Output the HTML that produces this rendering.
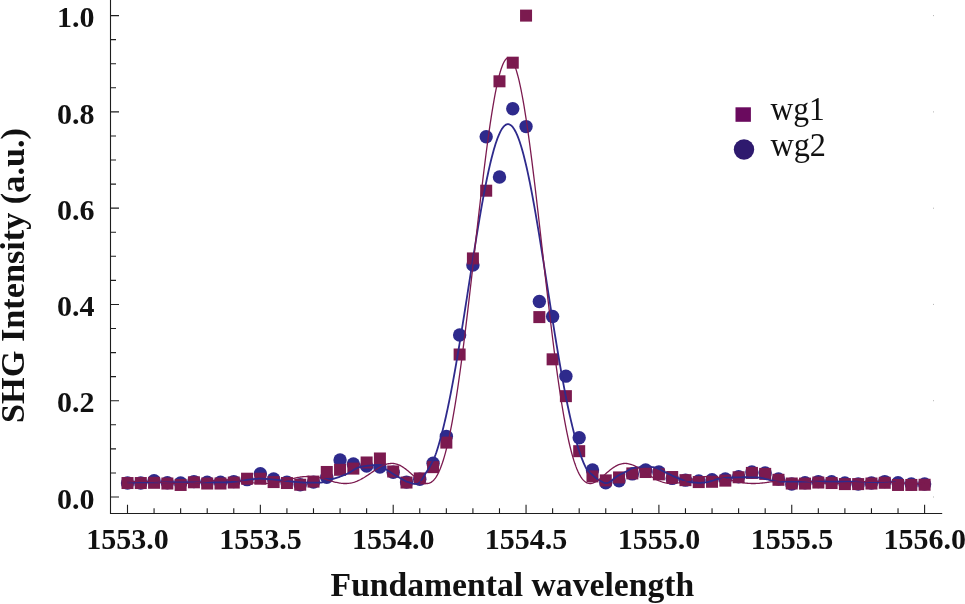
<!DOCTYPE html>
<html lang="en"><head><meta charset="utf-8"><title>SHG Intensity vs Fundamental wavelength</title>
<style>html,body{margin:0;padding:0;background:#fff}body{width:965px;height:604px;overflow:hidden}svg{display:block}</style>
</head><body>
<svg width="965" height="604" viewBox="0 0 965 604">
<rect width="965" height="604" fill="#fff"/>
<g stroke="#1e1e1e" stroke-width="1.1" fill="none">
<path d="M110.5,0 V513.5 H942.2"/>
<path d="M110.5,497.00 h8.5 M110.5,472.93 h5.5 M110.5,448.86 h5.5 M110.5,424.79 h5.5 M110.5,400.72 h8.5 M110.5,376.65 h5.5 M110.5,352.58 h5.5 M110.5,328.51 h5.5 M110.5,304.44 h8.5 M110.5,280.37 h5.5 M110.5,256.30 h5.5 M110.5,232.23 h5.5 M110.5,208.16 h8.5 M110.5,184.09 h5.5 M110.5,160.02 h5.5 M110.5,135.95 h5.5 M110.5,111.88 h8.5 M110.5,87.81 h5.5 M110.5,63.74 h5.5 M110.5,39.67 h5.5 M110.5,15.60 h8.5 M127.50,513.5 v-8.8 M154.07,513.5 v-5.2 M180.64,513.5 v-5.2 M207.21,513.5 v-5.2 M233.78,513.5 v-5.2 M260.35,513.5 v-8.8 M286.92,513.5 v-5.2 M313.49,513.5 v-5.2 M340.06,513.5 v-5.2 M366.63,513.5 v-5.2 M393.20,513.5 v-8.8 M419.77,513.5 v-5.2 M446.34,513.5 v-5.2 M472.91,513.5 v-5.2 M499.48,513.5 v-5.2 M526.05,513.5 v-8.8 M552.62,513.5 v-5.2 M579.19,513.5 v-5.2 M605.76,513.5 v-5.2 M632.33,513.5 v-5.2 M658.90,513.5 v-8.8 M685.47,513.5 v-5.2 M712.04,513.5 v-5.2 M738.61,513.5 v-5.2 M765.18,513.5 v-5.2 M791.75,513.5 v-8.8 M818.32,513.5 v-5.2 M844.89,513.5 v-5.2 M871.46,513.5 v-5.2 M898.03,513.5 v-5.2 M924.60,513.5 v-8.8"/>
</g>
<g fill="#b4b4b4"><rect x="933" y="496.5" width="1" height="1"/><rect x="933" y="400.2" width="1" height="1"/><rect x="933" y="303.9" width="1" height="1"/><rect x="933" y="207.7" width="1" height="1"/><rect x="933" y="111.4" width="1" height="1"/><rect x="933" y="15.1" width="1" height="1"/></g>
<g fill="#2e2a8c">
<circle cx="127.50" cy="483.04" r="6.7"/>
<circle cx="140.78" cy="483.04" r="6.7"/>
<circle cx="154.07" cy="480.63" r="6.7"/>
<circle cx="167.36" cy="482.80" r="6.7"/>
<circle cx="180.64" cy="483.04" r="6.7"/>
<circle cx="193.93" cy="481.60" r="6.7"/>
<circle cx="207.21" cy="482.32" r="6.7"/>
<circle cx="220.50" cy="482.32" r="6.7"/>
<circle cx="233.78" cy="481.60" r="6.7"/>
<circle cx="247.06" cy="479.67" r="6.7"/>
<circle cx="260.35" cy="473.75" r="6.7"/>
<circle cx="273.63" cy="478.90" r="6.7"/>
<circle cx="286.92" cy="482.08" r="6.7"/>
<circle cx="300.21" cy="484.72" r="6.7"/>
<circle cx="313.49" cy="482.08" r="6.7"/>
<circle cx="326.77" cy="477.26" r="6.7"/>
<circle cx="340.06" cy="459.93" r="6.7"/>
<circle cx="353.35" cy="463.98" r="6.7"/>
<circle cx="366.63" cy="466.05" r="6.7"/>
<circle cx="379.91" cy="467.01" r="6.7"/>
<circle cx="393.20" cy="472.30" r="6.7"/>
<circle cx="406.49" cy="482.08" r="6.7"/>
<circle cx="419.77" cy="479.19" r="6.7"/>
<circle cx="433.06" cy="463.30" r="6.7"/>
<circle cx="446.34" cy="436.34" r="6.7"/>
<circle cx="459.62" cy="334.96" r="6.7"/>
<circle cx="472.91" cy="264.97" r="6.7"/>
<circle cx="486.19" cy="136.77" r="6.7"/>
<circle cx="499.48" cy="177.01" r="6.7"/>
<circle cx="512.76" cy="108.70" r="6.7"/>
<circle cx="526.05" cy="126.61" r="6.7"/>
<circle cx="539.34" cy="301.55" r="6.7"/>
<circle cx="552.62" cy="316.48" r="6.7"/>
<circle cx="565.90" cy="376.17" r="6.7"/>
<circle cx="579.19" cy="437.69" r="6.7"/>
<circle cx="592.48" cy="470.04" r="6.7"/>
<circle cx="605.76" cy="482.80" r="6.7"/>
<circle cx="619.05" cy="480.78" r="6.7"/>
<circle cx="632.33" cy="473.89" r="6.7"/>
<circle cx="645.62" cy="470.04" r="6.7"/>
<circle cx="658.90" cy="471.97" r="6.7"/>
<circle cx="672.19" cy="478.42" r="6.7"/>
<circle cx="685.47" cy="480.15" r="6.7"/>
<circle cx="698.75" cy="480.87" r="6.7"/>
<circle cx="712.04" cy="479.81" r="6.7"/>
<circle cx="725.33" cy="479.00" r="6.7"/>
<circle cx="738.61" cy="476.78" r="6.7"/>
<circle cx="751.89" cy="471.97" r="6.7"/>
<circle cx="765.18" cy="472.93" r="6.7"/>
<circle cx="778.47" cy="479.00" r="6.7"/>
<circle cx="791.75" cy="484.00" r="6.7"/>
<circle cx="805.03" cy="482.80" r="6.7"/>
<circle cx="818.32" cy="481.60" r="6.7"/>
<circle cx="831.61" cy="481.79" r="6.7"/>
<circle cx="844.89" cy="483.04" r="6.7"/>
<circle cx="858.17" cy="484.00" r="6.7"/>
<circle cx="871.46" cy="483.04" r="6.7"/>
<circle cx="884.75" cy="481.60" r="6.7"/>
<circle cx="898.03" cy="482.80" r="6.7"/>
<circle cx="911.32" cy="484.00" r="6.7"/>
<circle cx="924.60" cy="484.00" r="6.7"/>
</g>
<g fill="#7b1a4f">
<rect x="121.50" y="477.04" width="12" height="12"/>
<rect x="134.78" y="477.04" width="12" height="12"/>
<rect x="148.07" y="476.80" width="12" height="12"/>
<rect x="161.36" y="477.52" width="12" height="12"/>
<rect x="174.64" y="478.96" width="12" height="12"/>
<rect x="187.93" y="476.32" width="12" height="12"/>
<rect x="201.21" y="477.52" width="12" height="12"/>
<rect x="214.50" y="477.52" width="12" height="12"/>
<rect x="227.78" y="476.56" width="12" height="12"/>
<rect x="241.06" y="472.71" width="12" height="12"/>
<rect x="254.35" y="472.71" width="12" height="12"/>
<rect x="267.63" y="476.08" width="12" height="12"/>
<rect x="280.92" y="477.04" width="12" height="12"/>
<rect x="294.21" y="478.72" width="12" height="12"/>
<rect x="307.49" y="475.60" width="12" height="12"/>
<rect x="320.77" y="465.97" width="12" height="12"/>
<rect x="334.06" y="463.80" width="12" height="12"/>
<rect x="347.35" y="462.60" width="12" height="12"/>
<rect x="360.63" y="456.48" width="12" height="12"/>
<rect x="373.91" y="452.49" width="12" height="12"/>
<rect x="387.20" y="465.49" width="12" height="12"/>
<rect x="400.49" y="476.56" width="12" height="12"/>
<rect x="413.77" y="472.42" width="12" height="12"/>
<rect x="427.06" y="461.15" width="12" height="12"/>
<rect x="440.34" y="436.60" width="12" height="12"/>
<rect x="453.62" y="348.51" width="12" height="12"/>
<rect x="466.91" y="252.42" width="12" height="12"/>
<rect x="480.19" y="184.69" width="12" height="12"/>
<rect x="493.48" y="75.31" width="12" height="12"/>
<rect x="506.76" y="56.68" width="12" height="12"/>
<rect x="520.05" y="9.60" width="12" height="12"/>
<rect x="533.34" y="311.10" width="12" height="12"/>
<rect x="546.62" y="353.32" width="12" height="12"/>
<rect x="559.90" y="390.15" width="12" height="12"/>
<rect x="573.19" y="445.17" width="12" height="12"/>
<rect x="586.48" y="470.40" width="12" height="12"/>
<rect x="599.76" y="474.39" width="12" height="12"/>
<rect x="613.05" y="471.41" width="12" height="12"/>
<rect x="626.33" y="467.41" width="12" height="12"/>
<rect x="639.62" y="466.02" width="12" height="12"/>
<rect x="652.90" y="468.37" width="12" height="12"/>
<rect x="666.19" y="471.02" width="12" height="12"/>
<rect x="679.47" y="474.15" width="12" height="12"/>
<rect x="692.75" y="476.08" width="12" height="12"/>
<rect x="706.04" y="475.79" width="12" height="12"/>
<rect x="719.33" y="474.63" width="12" height="12"/>
<rect x="732.61" y="471.26" width="12" height="12"/>
<rect x="745.89" y="466.93" width="12" height="12"/>
<rect x="759.18" y="467.89" width="12" height="12"/>
<rect x="772.47" y="473.81" width="12" height="12"/>
<rect x="785.75" y="477.52" width="12" height="12"/>
<rect x="799.03" y="477.62" width="12" height="12"/>
<rect x="812.32" y="476.56" width="12" height="12"/>
<rect x="825.61" y="477.04" width="12" height="12"/>
<rect x="838.89" y="478.10" width="12" height="12"/>
<rect x="852.17" y="478.10" width="12" height="12"/>
<rect x="865.46" y="477.52" width="12" height="12"/>
<rect x="878.75" y="476.80" width="12" height="12"/>
<rect x="892.03" y="478.96" width="12" height="12"/>
<rect x="905.32" y="478.96" width="12" height="12"/>
<rect x="918.60" y="478.77" width="12" height="12"/>
</g>
<path d="M127.60,482.32 L128.40,482.32 L129.20,482.32 L130.00,482.32 L130.80,482.32 L131.60,482.32 L132.40,482.32 L133.20,482.32 L134.00,482.32 L134.80,482.32 L135.60,482.32 L136.40,482.32 L137.20,482.32 L138.00,482.32 L138.80,482.32 L139.60,482.32 L140.40,482.32 L141.20,482.32 L142.00,482.32 L142.80,482.32 L143.60,482.32 L144.40,482.32 L145.20,482.32 L146.00,482.32 L146.80,482.32 L147.60,482.32 L148.40,482.32 L149.20,482.32 L150.00,482.32 L150.80,482.32 L151.60,482.32 L152.40,482.32 L153.20,482.32 L154.00,482.32 L154.80,482.32 L155.60,482.32 L156.40,482.32 L157.20,482.32 L158.00,482.32 L158.80,482.32 L159.60,482.32 L160.40,482.32 L161.20,482.32 L162.00,482.32 L162.80,482.32 L163.60,482.32 L164.40,482.32 L165.20,482.32 L166.00,482.32 L166.80,482.32 L167.60,482.32 L168.40,482.32 L169.20,482.32 L170.00,482.32 L170.80,482.32 L171.60,482.32 L172.40,482.32 L173.20,482.32 L174.00,482.32 L174.80,482.32 L175.60,482.32 L176.40,482.32 L177.20,482.32 L178.00,482.32 L178.80,482.32 L179.60,482.32 L180.40,482.32 L181.20,482.32 L182.00,482.32 L182.80,482.32 L183.60,482.32 L184.40,482.32 L185.20,482.32 L186.00,482.32 L186.80,482.32 L187.60,482.32 L188.40,482.32 L189.20,482.32 L190.00,482.32 L190.80,482.32 L191.60,482.32 L192.40,482.32 L193.20,482.32 L194.00,482.32 L194.80,482.32 L195.60,482.32 L196.40,482.32 L197.20,482.32 L198.00,482.32 L198.80,482.32 L199.60,482.32 L200.40,482.32 L201.20,482.32 L202.00,482.32 L202.80,482.32 L203.60,482.32 L204.40,482.32 L205.20,482.32 L206.00,482.32 L206.80,482.32 L207.60,482.32 L208.40,482.32 L209.20,482.32 L210.00,482.32 L210.80,482.32 L211.60,482.32 L212.40,482.32 L213.20,482.32 L214.00,482.32 L214.80,482.32 L215.60,482.32 L216.40,482.32 L217.20,482.32 L218.00,482.32 L218.80,482.32 L219.60,482.32 L220.40,482.32 L221.20,482.32 L222.00,482.32 L222.80,482.32 L223.60,482.32 L224.40,482.32 L225.20,482.32 L226.00,482.31 L226.80,482.29 L227.60,482.26 L228.40,482.23 L229.20,482.18 L230.00,482.13 L230.80,482.07 L231.60,482.00 L232.40,481.93 L233.20,481.86 L234.00,481.78 L234.80,481.69 L235.60,481.61 L236.40,481.52 L237.20,481.43 L238.00,481.34 L238.80,481.25 L239.60,481.16 L240.40,481.07 L241.20,480.96 L242.00,480.83 L242.80,480.69 L243.60,480.54 L244.40,480.38 L245.20,480.22 L246.00,480.06 L246.80,479.91 L247.60,479.76 L248.40,479.63 L249.20,479.52 L250.00,479.43 L250.80,479.35 L251.60,479.27 L252.40,479.18 L253.20,479.10 L254.00,479.03 L254.80,478.96 L255.60,478.89 L256.40,478.84 L257.20,478.79 L258.00,478.75 L258.80,478.72 L259.60,478.71 L260.40,478.71 L261.20,478.72 L262.00,478.74 L262.80,478.77 L263.60,478.81 L264.40,478.85 L265.20,478.90 L266.00,478.95 L266.80,479.01 L267.60,479.08 L268.40,479.14 L269.20,479.20 L270.00,479.27 L270.80,479.34 L271.60,479.40 L272.40,479.46 L273.20,479.53 L274.00,479.60 L274.80,479.67 L275.60,479.75 L276.40,479.84 L277.20,479.92 L278.00,480.01 L278.80,480.11 L279.60,480.20 L280.40,480.30 L281.20,480.39 L282.00,480.49 L282.80,480.58 L283.60,480.68 L284.40,480.77 L285.20,480.87 L286.00,480.96 L286.80,481.04 L287.60,481.13 L288.40,481.21 L289.20,481.28 L290.00,481.35 L290.80,481.42 L291.60,481.50 L292.40,481.57 L293.20,481.65 L294.00,481.73 L294.80,481.81 L295.60,481.88 L296.40,481.96 L297.20,482.04 L298.00,482.11 L298.80,482.18 L299.60,482.25 L300.40,482.31 L301.20,482.38 L302.00,482.43 L302.80,482.48 L303.60,482.53 L304.40,482.57 L305.20,482.60 L306.00,482.63 L306.80,482.64 L307.60,482.65 L308.40,482.65 L309.20,482.65 L310.00,482.65 L310.80,482.65 L311.60,482.65 L312.40,482.64 L313.20,482.64 L314.00,482.63 L314.80,482.62 L315.60,482.61 L316.40,482.61 L317.20,482.60 L318.00,482.59 L318.80,482.58 L319.60,482.56 L320.40,482.55 L321.20,482.49 L322.00,482.39 L322.80,482.26 L323.60,482.09 L324.40,481.89 L325.20,481.67 L326.00,481.42 L326.80,481.16 L327.60,480.89 L328.40,480.60 L329.20,480.32 L330.00,480.03 L330.80,479.74 L331.60,479.46 L332.40,479.19 L333.20,478.93 L334.00,478.68 L334.80,478.42 L335.60,478.16 L336.40,477.89 L337.20,477.62 L338.00,477.34 L338.80,477.06 L339.60,476.78 L340.40,476.48 L341.20,476.18 L342.00,475.88 L342.80,475.57 L343.60,475.25 L344.40,474.92 L345.20,474.59 L346.00,474.25 L346.80,473.90 L347.60,473.52 L348.40,473.09 L349.20,472.64 L350.00,472.15 L350.80,471.66 L351.60,471.15 L352.40,470.64 L353.20,470.14 L354.00,469.64 L354.80,469.17 L355.60,468.73 L356.40,468.33 L357.20,467.96 L358.00,467.65 L358.80,467.40 L359.60,467.20 L360.40,467.00 L361.20,466.82 L362.00,466.66 L362.80,466.50 L363.60,466.35 L364.40,466.21 L365.20,466.08 L366.00,465.95 L366.80,465.84 L367.60,465.74 L368.40,465.64 L369.20,465.55 L370.00,465.47 L370.80,465.39 L371.60,465.31 L372.40,465.23 L373.20,465.15 L374.00,465.08 L374.80,465.02 L375.60,464.97 L376.40,464.93 L377.20,464.90 L378.00,464.89 L378.80,464.95 L379.60,465.13 L380.40,465.44 L381.20,465.84 L382.00,466.32 L382.80,466.86 L383.60,467.45 L384.40,468.06 L385.20,468.68 L386.00,469.29 L386.80,469.88 L387.60,470.42 L388.40,470.91 L389.20,471.40 L390.00,471.89 L390.80,472.39 L391.60,472.90 L392.40,473.41 L393.20,473.91 L394.00,474.42 L394.80,474.92 L395.60,475.42 L396.40,475.91 L397.20,476.39 L398.00,476.85 L398.80,477.31 L399.60,477.77 L400.40,478.23 L401.20,478.71 L402.00,479.18 L402.80,479.64 L403.60,480.09 L404.40,480.52 L405.20,480.93 L406.00,481.31 L406.80,481.65 L407.60,481.94 L408.40,482.20 L409.20,482.46 L410.00,482.71 L410.80,482.96 L411.60,483.20 L412.40,483.41 L413.20,483.60 L414.00,483.76 L414.80,483.89 L415.60,483.97 L416.40,484.00 L417.20,483.91 L418.00,483.57 L418.80,483.03 L419.60,482.29 L420.40,481.40 L421.20,480.37 L422.00,479.22 L422.80,477.99 L423.60,476.70 L424.40,475.38 L425.20,474.04 L426.00,472.72 L426.80,471.44 L427.60,470.21 L428.40,468.97 L429.20,467.67 L430.00,466.32 L430.80,464.90 L431.60,463.41 L432.40,461.84 L433.20,460.18 L434.00,458.43 L434.80,456.56 L435.60,454.53 L436.40,452.27 L437.20,449.83 L438.00,447.23 L438.80,444.50 L439.60,441.67 L440.40,438.77 L441.20,435.83 L442.00,432.87 L442.80,429.78 L443.60,426.50 L444.40,423.15 L445.20,419.71 L446.00,416.18 L446.80,412.56 L447.60,408.84 L448.40,405.03 L449.20,401.13 L450.00,397.14 L450.80,393.07 L451.60,388.91 L452.40,384.68 L453.20,380.36 L454.00,375.98 L454.80,371.52 L455.60,366.99 L456.40,362.39 L457.20,357.73 L458.00,353.01 L458.80,348.24 L459.60,343.41 L460.40,338.54 L461.20,333.62 L462.00,328.66 L462.80,323.66 L463.60,318.63 L464.40,313.57 L465.20,308.49 L466.00,303.39 L466.80,298.27 L467.60,293.14 L468.40,288.00 L469.20,282.87 L470.00,277.73 L470.80,272.61 L471.60,267.50 L472.40,262.41 L473.20,257.33 L474.00,252.29 L474.80,247.28 L475.60,242.30 L476.40,237.37 L477.20,232.49 L478.00,227.66 L478.80,222.88 L479.60,218.16 L480.40,213.52 L481.20,208.94 L482.00,204.44 L482.80,200.03 L483.60,195.69 L484.40,191.45 L485.20,187.30 L486.00,183.25 L486.80,179.30 L487.60,175.46 L488.40,171.74 L489.20,168.12 L490.00,164.63 L490.80,161.26 L491.60,158.02 L492.40,154.91 L493.20,151.93 L494.00,149.09 L494.80,146.39 L495.60,143.83 L496.40,141.42 L497.20,139.15 L498.00,137.04 L498.80,135.09 L499.60,133.28 L500.40,131.64 L501.20,130.15 L502.00,128.83 L502.80,127.67 L503.60,126.65 L504.40,125.84 L505.20,125.14 L506.00,124.67 L506.80,124.38 L507.60,124.18 L508.40,124.19 L509.20,124.39 L510.00,124.69 L510.80,125.17 L511.60,125.88 L512.40,126.70 L513.20,127.71 L514.00,128.88 L514.80,130.21 L515.60,131.71 L516.40,133.35 L517.20,135.17 L518.00,137.13 L518.80,139.25 L519.60,141.52 L520.40,143.93 L521.20,146.50 L522.00,149.21 L522.80,152.06 L523.60,155.04 L524.40,158.16 L525.20,161.41 L526.00,164.78 L526.80,168.28 L527.60,171.90 L528.40,175.63 L529.20,179.48 L530.00,183.43 L530.80,187.48 L531.60,191.64 L532.40,195.88 L533.20,200.22 L534.00,204.64 L534.80,209.14 L535.60,213.72 L536.40,218.37 L537.20,223.09 L538.00,227.87 L538.80,232.70 L539.60,237.59 L540.40,242.52 L541.20,247.50 L542.00,252.51 L542.80,257.55 L543.60,262.63 L544.40,267.72 L545.20,272.84 L546.00,277.96 L546.80,283.09 L547.60,288.23 L548.40,293.36 L549.20,298.49 L550.00,303.61 L550.80,308.71 L551.60,313.80 L552.40,318.85 L553.20,323.88 L554.00,328.88 L554.80,333.84 L555.60,338.76 L556.40,343.63 L557.20,348.45 L558.00,353.22 L558.80,357.94 L559.60,362.60 L560.40,367.19 L561.20,371.72 L562.00,376.17 L562.80,380.56 L563.60,384.87 L564.40,389.10 L565.20,393.25 L566.00,397.32 L566.80,401.30 L567.60,405.20 L568.40,409.00 L569.20,412.72 L570.00,416.34 L570.80,419.87 L571.60,423.30 L572.40,426.63 L573.20,429.87 L574.00,433.01 L574.80,436.05 L575.60,438.99 L576.40,441.82 L577.20,444.56 L578.00,447.19 L578.80,449.72 L579.60,452.15 L580.40,454.48 L581.20,456.71 L582.00,458.84 L582.80,460.86 L583.60,462.79 L584.40,464.65 L585.20,466.48 L586.00,467.99 L586.80,469.14 L587.60,470.18 L588.40,471.13 L589.20,472.00 L590.00,472.80 L590.80,473.55 L591.60,474.27 L592.40,474.97 L593.20,475.67 L594.00,476.38 L594.80,477.07 L595.60,477.74 L596.40,478.38 L597.20,478.99 L598.00,479.56 L598.80,480.08 L599.60,480.53 L600.40,480.94 L601.20,481.36 L602.00,481.77 L602.80,482.16 L603.60,482.51 L604.40,482.80 L605.20,483.01 L606.00,483.12 L606.80,483.12 L607.60,482.98 L608.40,482.71 L609.20,482.33 L610.00,481.86 L610.80,481.31 L611.60,480.70 L612.40,480.05 L613.20,479.38 L614.00,478.69 L614.80,478.01 L615.60,477.35 L616.40,476.73 L617.20,476.17 L618.00,475.67 L618.80,475.23 L619.60,474.81 L620.40,474.40 L621.20,474.00 L622.00,473.61 L622.80,473.22 L623.60,472.83 L624.40,472.44 L625.20,472.05 L626.00,471.64 L626.80,471.21 L627.60,470.73 L628.40,470.22 L629.20,469.71 L630.00,469.23 L630.80,468.80 L631.60,468.45 L632.40,468.21 L633.20,468.05 L634.00,467.91 L634.80,467.78 L635.60,467.68 L636.40,467.58 L637.20,467.49 L638.00,467.41 L638.80,467.33 L639.60,467.25 L640.40,467.16 L641.20,467.08 L642.00,466.99 L642.80,466.90 L643.60,466.83 L644.40,466.77 L645.20,466.73 L646.00,466.72 L646.80,466.73 L647.60,466.75 L648.40,466.79 L649.20,466.84 L650.00,466.89 L650.80,466.96 L651.60,467.04 L652.40,467.12 L653.20,467.20 L654.00,467.32 L654.80,467.49 L655.60,467.71 L656.40,467.98 L657.20,468.29 L658.00,468.63 L658.80,469.00 L659.60,469.38 L660.40,469.79 L661.20,470.20 L662.00,470.62 L662.80,471.04 L663.60,471.45 L664.40,471.84 L665.20,472.22 L666.00,472.58 L666.80,472.95 L667.60,473.32 L668.40,473.71 L669.20,474.10 L670.00,474.50 L670.80,474.90 L671.60,475.29 L672.40,475.69 L673.20,476.08 L674.00,476.46 L674.80,476.83 L675.60,477.19 L676.40,477.54 L677.20,477.87 L678.00,478.18 L678.80,478.48 L679.60,478.79 L680.40,479.09 L681.20,479.40 L682.00,479.70 L682.80,480.00 L683.60,480.29 L684.40,480.57 L685.20,480.84 L686.00,481.09 L686.80,481.32 L687.60,481.53 L688.40,481.71 L689.20,481.88 L690.00,482.01 L690.80,482.11 L691.60,482.21 L692.40,482.30 L693.20,482.39 L694.00,482.48 L694.80,482.55 L695.60,482.62 L696.40,482.68 L697.20,482.73 L698.00,482.77 L698.80,482.79 L699.60,482.80 L700.40,482.79 L701.20,482.76 L702.00,482.71 L702.80,482.65 L703.60,482.58 L704.40,482.50 L705.20,482.41 L706.00,482.32 L706.80,482.20 L707.60,482.05 L708.40,481.86 L709.20,481.66 L710.00,481.43 L710.80,481.21 L711.60,480.98 L712.40,480.76 L713.20,480.51 L714.00,480.24 L714.80,479.95 L715.60,479.65 L716.40,479.35 L717.20,479.07 L718.00,478.81 L718.80,478.58 L719.60,478.40 L720.40,478.26 L721.20,478.18 L722.00,478.10 L722.80,478.03 L723.60,477.97 L724.40,477.91 L725.20,477.85 L726.00,477.80 L726.80,477.76 L727.60,477.71 L728.40,477.67 L729.20,477.64 L730.00,477.61 L730.80,477.58 L731.60,477.55 L732.40,477.52 L733.20,477.50 L734.00,477.47 L734.80,477.45 L735.60,477.43 L736.40,477.40 L737.20,477.38 L738.00,477.36 L738.80,477.34 L739.60,477.33 L740.40,477.31 L741.20,477.30 L742.00,477.28 L742.80,477.27 L743.60,477.27 L744.40,477.26 L745.20,477.26 L746.00,477.26 L746.80,477.27 L747.60,477.27 L748.40,477.28 L749.20,477.29 L750.00,477.30 L750.80,477.32 L751.60,477.33 L752.40,477.35 L753.20,477.37 L754.00,477.39 L754.80,477.41 L755.60,477.43 L756.40,477.45 L757.20,477.48 L758.00,477.50 L758.80,477.55 L759.60,477.63 L760.40,477.74 L761.20,477.87 L762.00,478.03 L762.80,478.21 L763.60,478.40 L764.40,478.60 L765.20,478.82 L766.00,479.04 L766.80,479.26 L767.60,479.48 L768.40,479.69 L769.20,479.90 L770.00,480.09 L770.80,480.26 L771.60,480.42 L772.40,480.55 L773.20,480.66 L774.00,480.76 L774.80,480.86 L775.60,480.95 L776.40,481.05 L777.20,481.15 L778.00,481.24 L778.80,481.32 L779.60,481.40 L780.40,481.48 L781.20,481.54 L782.00,481.59 L782.80,481.64 L783.60,481.67 L784.40,481.69 L785.20,481.69 L786.00,481.69 L786.80,481.69 L787.60,481.69 L788.40,481.69 L789.20,481.69 L790.00,481.69 L790.80,481.69 L791.60,481.69 L792.40,481.69 L793.20,481.69 L794.00,481.69 L794.80,481.69 L795.60,481.69 L796.40,481.69 L797.20,481.69 L798.00,481.69 L798.80,481.69 L799.60,481.69 L800.40,481.69 L801.20,481.69 L802.00,481.69 L802.80,481.69 L803.60,481.69 L804.40,481.69 L805.20,481.69 L806.00,481.69 L806.80,481.68 L807.60,481.68 L808.40,481.68 L809.20,481.68 L810.00,481.68 L810.80,481.67 L811.60,481.67 L812.40,481.67 L813.20,481.67 L814.00,481.66 L814.80,481.66 L815.60,481.66 L816.40,481.66 L817.20,481.65 L818.00,481.65 L818.80,481.65 L819.60,481.64 L820.40,481.64 L821.20,481.64 L822.00,481.64 L822.80,481.63 L823.60,481.63 L824.40,481.63 L825.20,481.62 L826.00,481.62 L826.80,481.62 L827.60,481.62 L828.40,481.61 L829.20,481.61 L830.00,481.61 L830.80,481.61 L831.60,481.61 L832.40,481.60 L833.20,481.60 L834.00,481.60 L834.80,481.60 L835.60,481.60 L836.40,481.60 L837.20,481.60 L838.00,481.60 L838.80,481.60 L839.60,481.60 L840.40,481.60 L841.20,481.60 L842.00,481.60 L842.80,481.60 L843.60,481.61 L844.40,481.61 L845.20,481.62 L846.00,481.62 L846.80,481.63 L847.60,481.64 L848.40,481.65 L849.20,481.65 L850.00,481.66 L850.80,481.67 L851.60,481.68 L852.40,481.70 L853.20,481.71 L854.00,481.72 L854.80,481.73 L855.60,481.74 L856.40,481.75 L857.20,481.77 L858.00,481.78 L858.80,481.79 L859.60,481.80 L860.40,481.81 L861.20,481.82 L862.00,481.84 L862.80,481.85 L863.60,481.86 L864.40,481.88 L865.20,481.90 L866.00,481.92 L866.80,481.94 L867.60,481.96 L868.40,481.98 L869.20,482.00 L870.00,482.01 L870.80,482.03 L871.60,482.05 L872.40,482.06 L873.20,482.07 L874.00,482.07 L874.80,482.08 L875.60,482.08 L876.40,482.08 L877.20,482.08 L878.00,482.08 L878.80,482.08 L879.60,482.08 L880.40,482.08 L881.20,482.08 L882.00,482.08 L882.80,482.08 L883.60,482.08 L884.40,482.08 L885.20,482.08 L886.00,482.08 L886.80,482.08 L887.60,482.08 L888.40,482.08 L889.20,482.08 L890.00,482.08 L890.80,482.08 L891.60,482.08 L892.40,482.08 L893.20,482.08 L894.00,482.08 L894.80,482.08 L895.60,482.08" fill="none" stroke="#2e2a8c" stroke-width="1.8"/>
<path d="M127.50,482.06 L128.50,481.99 L129.49,481.92 L130.49,481.85 L131.49,481.78 L132.48,481.72 L133.48,481.67 L134.47,481.61 L135.47,481.57 L136.47,481.52 L137.46,481.48 L138.46,481.45 L139.46,481.43 L140.45,481.40 L141.45,481.39 L142.45,481.38 L143.44,481.38 L144.44,481.38 L145.43,481.39 L146.43,481.41 L147.43,481.43 L148.42,481.46 L149.42,481.50 L150.42,481.54 L151.41,481.59 L152.41,481.64 L153.41,481.69 L154.40,481.76 L155.40,481.82 L156.39,481.89 L157.39,481.97 L158.39,482.04 L159.38,482.12 L160.38,482.20 L161.38,482.29 L162.37,482.37 L163.37,482.46 L164.37,482.54 L165.36,482.63 L166.36,482.71 L167.36,482.80 L168.35,482.88 L169.35,482.95 L170.34,483.03 L171.34,483.10 L172.34,483.17 L173.33,483.23 L174.33,483.29 L175.33,483.34 L176.32,483.39 L177.32,483.43 L178.32,483.46 L179.31,483.49 L180.31,483.51 L181.30,483.52 L182.30,483.52 L183.30,483.52 L184.29,483.50 L185.29,483.48 L186.29,483.45 L187.28,483.42 L188.28,483.37 L189.28,483.32 L190.27,483.26 L191.27,483.19 L192.26,483.11 L193.26,483.03 L194.26,482.94 L195.25,482.84 L196.25,482.74 L197.25,482.64 L198.24,482.52 L199.24,482.41 L200.24,482.29 L201.23,482.16 L202.23,482.04 L203.22,481.91 L204.22,481.78 L205.22,481.65 L206.21,481.52 L207.21,481.39 L208.21,481.27 L209.20,481.14 L210.20,481.02 L211.20,480.90 L212.19,480.79 L213.19,480.68 L214.18,480.58 L215.18,480.48 L216.18,480.39 L217.17,480.31 L218.17,480.23 L219.17,480.17 L220.16,480.11 L221.16,480.06 L222.16,480.02 L223.15,480.00 L224.15,479.98 L225.14,479.97 L226.14,479.97 L227.14,479.99 L228.13,480.01 L229.13,480.04 L230.13,480.09 L231.12,480.14 L232.12,480.21 L233.12,480.28 L234.11,480.36 L235.11,480.45 L236.10,480.55 L237.10,480.66 L238.10,480.78 L239.09,480.90 L240.09,481.02 L241.09,481.16 L242.08,481.29 L243.08,481.43 L244.08,481.57 L245.07,481.72 L246.07,481.86 L247.07,482.00 L248.06,482.15 L249.06,482.29 L250.05,482.42 L251.05,482.56 L252.05,482.69 L253.04,482.81 L254.04,482.92 L255.04,483.03 L256.03,483.13 L257.03,483.22 L258.03,483.30 L259.02,483.37 L260.02,483.42 L261.01,483.47 L262.01,483.50 L263.01,483.52 L264.00,483.52 L265.00,483.51 L266.00,483.49 L266.99,483.45 L267.99,483.39 L268.99,483.32 L269.98,483.24 L270.98,483.14 L271.97,483.03 L272.97,482.90 L273.97,482.76 L274.96,482.61 L275.96,482.44 L276.96,482.26 L277.95,482.07 L278.95,481.87 L279.95,481.66 L280.94,481.44 L281.94,481.21 L282.93,480.97 L283.93,480.73 L284.93,480.49 L285.92,480.24 L286.92,479.99 L287.92,479.74 L288.91,479.49 L289.91,479.24 L290.91,478.99 L291.90,478.75 L292.90,478.52 L293.89,478.29 L294.89,478.07 L295.89,477.86 L296.88,477.66 L297.88,477.47 L298.88,477.30 L299.87,477.14 L300.87,477.00 L301.87,476.87 L302.86,476.76 L303.86,476.67 L304.85,476.60 L305.85,476.55 L306.85,476.52 L307.84,476.50 L308.84,476.51 L309.84,476.54 L310.83,476.59 L311.83,476.66 L312.83,476.75 L313.82,476.87 L314.82,477.00 L315.81,477.15 L316.81,477.32 L317.81,477.50 L318.80,477.71 L319.80,477.92 L320.80,478.16 L321.79,478.40 L322.79,478.66 L323.79,478.93 L324.78,479.20 L325.78,479.49 L326.77,479.77 L327.77,480.06 L328.77,480.36 L329.76,480.65 L330.76,480.93 L331.76,481.22 L332.75,481.49 L333.75,481.76 L334.75,482.01 L335.74,482.26 L336.74,482.48 L337.74,482.69 L338.73,482.88 L339.73,483.05 L340.72,483.20 L341.72,483.32 L342.72,483.41 L343.71,483.48 L344.71,483.51 L345.71,483.52 L346.70,483.49 L347.70,483.43 L348.70,483.34 L349.69,483.21 L350.69,483.04 L351.68,482.84 L352.68,482.61 L353.68,482.34 L354.67,482.03 L355.67,481.69 L356.67,481.31 L357.66,480.90 L358.66,480.46 L359.66,479.98 L360.65,479.48 L361.65,478.94 L362.64,478.38 L363.64,477.80 L364.64,477.19 L365.63,476.56 L366.63,475.92 L367.63,475.26 L368.62,474.59 L369.62,473.91 L370.62,473.22 L371.61,472.53 L372.61,471.84 L373.60,471.16 L374.60,470.48 L375.60,469.82 L376.59,469.17 L377.59,468.53 L378.59,467.92 L379.58,467.34 L380.58,466.78 L381.58,466.26 L382.57,465.77 L383.57,465.32 L384.56,464.91 L385.56,464.54 L386.56,464.23 L387.55,463.96 L388.55,463.74 L389.55,463.58 L390.54,463.48 L391.54,463.43 L392.54,463.44 L393.53,463.51 L394.53,463.64 L395.52,463.84 L396.52,464.09 L397.52,464.40 L398.51,464.78 L399.51,465.21 L400.51,465.69 L401.50,466.24 L402.50,466.83 L403.50,467.47 L404.49,468.16 L405.49,468.89 L406.48,469.66 L407.48,470.47 L408.48,471.30 L409.47,472.15 L410.47,473.03 L411.47,473.91 L412.46,474.81 L413.46,475.70 L414.46,476.58 L415.45,477.44 L416.45,478.28 L417.45,479.09 L418.44,479.86 L419.44,480.58 L420.43,481.24 L421.43,481.84 L422.43,482.36 L423.42,482.80 L424.42,483.14 L425.42,483.38 L426.41,483.50 L427.41,483.51 L428.41,483.38 L429.40,483.11 L430.40,482.69 L431.39,482.12 L432.39,481.37 L433.39,480.45 L434.38,479.35 L435.38,478.05 L436.38,476.56 L437.37,474.85 L438.37,472.94 L439.37,470.80 L440.36,468.43 L441.36,465.84 L442.35,463.01 L443.35,459.93 L444.35,456.62 L445.34,453.05 L446.34,449.24 L447.34,445.17 L448.33,440.85 L449.33,436.28 L450.33,431.46 L451.32,426.38 L452.32,421.06 L453.31,415.48 L454.31,409.67 L455.31,403.61 L456.30,397.32 L457.30,390.80 L458.30,384.06 L459.29,377.11 L460.29,369.95 L461.29,362.59 L462.28,355.04 L463.28,347.32 L464.27,339.43 L465.27,331.38 L466.27,323.19 L467.26,314.87 L468.26,306.44 L469.26,297.90 L470.25,289.28 L471.25,280.58 L472.25,271.83 L473.24,263.03 L474.24,254.22 L475.23,245.39 L476.23,236.58 L477.23,227.79 L478.22,219.04 L479.22,210.36 L480.22,201.75 L481.21,193.25 L482.21,184.86 L483.21,176.60 L484.20,168.49 L485.20,160.55 L486.19,152.79 L487.19,145.24 L488.19,137.90 L489.18,130.80 L490.18,123.95 L491.18,117.36 L492.17,111.05 L493.17,105.04 L494.17,99.34 L495.16,93.95 L496.16,88.91 L497.16,84.20 L498.15,79.85 L499.15,75.87 L500.14,72.27 L501.14,69.05 L502.14,66.22 L503.13,63.78 L504.13,61.75 L505.13,60.13 L506.12,58.93 L507.12,58.13 L508.12,57.76 L509.11,57.80 L510.11,58.26 L511.10,59.13 L512.10,60.42 L513.10,62.13 L514.09,64.24 L515.09,66.75 L516.09,69.66 L517.08,72.96 L518.08,76.64 L519.08,80.69 L520.07,85.11 L521.07,89.89 L522.06,95.00 L523.06,100.45 L524.06,106.22 L525.05,112.29 L526.05,118.65 L527.05,125.29 L528.04,132.20 L529.04,139.35 L530.04,146.73 L531.03,154.33 L532.03,162.12 L533.02,170.10 L534.02,178.24 L535.02,186.52 L536.01,194.94 L537.01,203.47 L538.01,212.09 L539.00,220.79 L540.00,229.54 L541.00,238.34 L541.99,247.16 L542.99,255.98 L543.98,264.80 L544.98,273.58 L545.98,282.33 L546.97,291.01 L547.97,299.62 L548.97,308.13 L549.96,316.55 L550.96,324.84 L551.96,333.00 L552.95,341.02 L553.95,348.88 L554.94,356.57 L555.94,364.08 L556.94,371.40 L557.93,378.52 L558.93,385.43 L559.93,392.13 L560.92,398.60 L561.92,404.84 L562.92,410.85 L563.91,416.62 L564.91,422.14 L565.91,427.42 L566.90,432.44 L567.90,437.22 L568.89,441.74 L569.89,446.01 L570.89,450.02 L571.88,453.79 L572.88,457.30 L573.88,460.57 L574.87,463.59 L575.87,466.38 L576.87,468.92 L577.86,471.24 L578.86,473.34 L579.85,475.21 L580.85,476.87 L581.85,478.33 L582.84,479.58 L583.84,480.65 L584.84,481.54 L585.83,482.25 L586.83,482.79 L587.83,483.18 L588.82,483.42 L589.82,483.52 L590.81,483.49 L591.81,483.34 L592.81,483.08 L593.80,482.72 L594.80,482.26 L595.80,481.73 L596.79,481.12 L597.79,480.44 L598.79,479.71 L599.78,478.93 L600.78,478.12 L601.77,477.27 L602.77,476.40 L603.77,475.52 L604.76,474.63 L605.76,473.74 L606.76,472.85 L607.75,471.98 L608.75,471.13 L609.75,470.30 L610.74,469.51 L611.74,468.74 L612.73,468.02 L613.73,467.34 L614.73,466.71 L615.72,466.12 L616.72,465.59 L617.72,465.12 L618.71,464.70 L619.71,464.34 L620.71,464.03 L621.70,463.79 L622.70,463.61 L623.69,463.49 L624.69,463.43 L625.69,463.43 L626.68,463.49 L627.68,463.61 L628.68,463.78 L629.67,464.01 L630.67,464.28 L631.67,464.61 L632.66,464.99 L633.66,465.40 L634.65,465.86 L635.65,466.36 L636.65,466.89 L637.64,467.45 L638.64,468.04 L639.64,468.66 L640.63,469.29 L641.63,469.95 L642.63,470.62 L643.62,471.29 L644.62,471.98 L645.62,472.67 L646.61,473.36 L647.61,474.04 L648.60,474.72 L649.60,475.39 L650.60,476.05 L651.59,476.69 L652.59,477.31 L653.59,477.92 L654.58,478.50 L655.58,479.05 L656.58,479.58 L657.57,480.08 L658.57,480.55 L659.56,480.98 L660.56,481.39 L661.56,481.76 L662.55,482.09 L663.55,482.39 L664.55,482.66 L665.54,482.89 L666.54,483.08 L667.54,483.24 L668.53,483.36 L669.53,483.45 L670.52,483.50 L671.52,483.52 L672.52,483.51 L673.51,483.47 L674.51,483.40 L675.51,483.30 L676.50,483.17 L677.50,483.02 L678.50,482.85 L679.49,482.65 L680.49,482.44 L681.48,482.21 L682.48,481.96 L683.48,481.71 L684.47,481.44 L685.47,481.16 L686.47,480.88 L687.46,480.59 L688.46,480.30 L689.46,480.01 L690.45,479.72 L691.45,479.43 L692.44,479.15 L693.44,478.87 L694.44,478.61 L695.43,478.35 L696.43,478.11 L697.43,477.88 L698.42,477.66 L699.42,477.46 L700.42,477.28 L701.41,477.12 L702.41,476.97 L703.40,476.84 L704.40,476.73 L705.40,476.65 L706.39,476.58 L707.39,476.53 L708.39,476.51 L709.38,476.50 L710.38,476.52 L711.38,476.56 L712.37,476.61 L713.37,476.69 L714.36,476.78 L715.36,476.90 L716.36,477.03 L717.35,477.17 L718.35,477.33 L719.35,477.51 L720.34,477.70 L721.34,477.90 L722.34,478.11 L723.33,478.33 L724.33,478.56 L725.32,478.80 L726.32,479.04 L727.32,479.29 L728.31,479.54 L729.31,479.79 L730.31,480.04 L731.30,480.29 L732.30,480.54 L733.30,480.78 L734.29,481.02 L735.29,481.26 L736.29,481.48 L737.28,481.70 L738.28,481.91 L739.27,482.11 L740.27,482.30 L741.27,482.47 L742.26,482.64 L743.26,482.79 L744.26,482.93 L745.25,483.05 L746.25,483.16 L747.25,483.26 L748.24,483.34 L749.24,483.40 L750.23,483.46 L751.23,483.49 L752.23,483.51 L753.22,483.52 L754.22,483.51 L755.22,483.49 L756.21,483.46 L757.21,483.41 L758.21,483.35 L759.20,483.28 L760.20,483.20 L761.19,483.11 L762.19,483.01 L763.19,482.90 L764.18,482.78 L765.18,482.66 L766.18,482.53 L767.17,482.40 L768.17,482.26 L769.17,482.12 L770.16,481.98 L771.16,481.83 L772.15,481.69 L773.15,481.54 L774.15,481.40 L775.14,481.26 L776.14,481.13 L777.14,481.00 L778.13,480.87 L779.13,480.75 L780.13,480.64 L781.12,480.53 L782.12,480.44 L783.11,480.35 L784.11,480.26 L785.11,480.19 L786.10,480.13 L787.10,480.08 L788.10,480.04 L789.09,480.00 L790.09,479.98 L791.09,479.97 L792.08,479.97 L793.08,479.98 L794.07,480.00 L795.07,480.03 L796.07,480.07 L797.06,480.12 L798.06,480.18 L799.06,480.25 L800.05,480.32 L801.05,480.41 L802.05,480.50 L803.04,480.60 L804.04,480.70 L805.03,480.81 L806.03,480.92 L807.03,481.04 L808.02,481.17 L809.02,481.29 L810.02,481.42 L811.01,481.55 L812.01,481.68 L813.01,481.81 L814.00,481.94 L815.00,482.06 L816.00,482.19 L816.99,482.31 L817.99,482.43 L818.98,482.55 L819.98,482.66 L820.98,482.76 L821.97,482.86 L822.97,482.96 L823.97,483.05 L824.96,483.13 L825.96,483.20 L826.96,483.27 L827.95,483.33 L828.95,483.38 L829.94,483.43 L830.94,483.46 L831.94,483.49 L832.93,483.51 L833.93,483.52 L834.93,483.52 L835.92,483.52 L836.92,483.50 L837.92,483.48 L838.91,483.46 L839.91,483.42 L840.90,483.38 L841.90,483.33 L842.90,483.28 L843.89,483.22 L844.89,483.16 L845.89,483.09 L846.88,483.02 L847.88,482.94 L848.88,482.86 L849.87,482.78 L850.87,482.70 L851.86,482.61 L852.86,482.53 L853.86,482.44 L854.85,482.35 L855.85,482.27 L856.85,482.19 L857.84,482.11 L858.84,482.03 L859.84,481.95 L860.83,481.88 L861.83,481.81 L862.82,481.74 L863.82,481.68 L864.82,481.63 L865.81,481.58 L866.81,481.53 L867.81,481.49 L868.80,481.46 L869.80,481.43 L870.80,481.41 L871.79,481.39 L872.79,481.38 L873.78,481.38 L874.78,481.38 L875.78,481.39 L876.77,481.41 L877.77,481.43 L878.77,481.46 L879.76,481.49 L880.76,481.53 L881.76,481.57 L882.75,481.62 L883.75,481.68 L884.74,481.74 L885.74,481.80 L886.74,481.86 L887.73,481.93 L888.73,482.00 L889.73,482.08 L890.72,482.15 L891.72,482.23 L892.72,482.31 L893.71,482.39 L894.71,482.47 L895.71,482.54 L896.70,482.62 L897.70,482.70 L898.69,482.77 L899.69,482.85 L900.69,482.92 L901.68,482.99 L902.68,483.05 L903.68,483.12 L904.67,483.17 L905.67,483.23 L906.67,483.28 L907.66,483.33 L908.66,483.37 L909.65,483.40 L910.65,483.44 L911.65,483.46 L912.64,483.48 L913.64,483.50 L914.64,483.51 L915.63,483.52 L916.63,483.52 L917.63,483.52 L918.62,483.51 L919.62,483.49 L920.61,483.48 L921.61,483.45 L922.61,483.43 L923.60,483.39 L924.60,483.36" fill="none" stroke="#7b1a4f" stroke-width="1.3"/>
<rect x="735.5" y="107.3" width="15.4" height="14.5" fill="#6a0a5e"/>
<circle cx="744" cy="149.5" r="10.2" fill="#2e1a6e"/>
<g font-family="'Liberation Serif', serif" font-size="33.5" fill="#111">
<text x="770.4" y="119.7" textLength="54.4" lengthAdjust="spacingAndGlyphs">wg1</text>
<text x="770.4" y="155.7" textLength="55.6" lengthAdjust="spacingAndGlyphs">wg2</text>
</g>
<g font-family="'Liberation Serif', serif" font-weight="bold" font-size="30" fill="#111">
<text x="94.6" y="508.7" text-anchor="end">0.0</text>
<text x="94.6" y="412.4" text-anchor="end">0.2</text>
<text x="94.6" y="316.1" text-anchor="end">0.4</text>
<text x="94.6" y="219.9" text-anchor="end">0.6</text>
<text x="94.6" y="123.6" text-anchor="end">0.8</text>
<text x="94.6" y="27.3" text-anchor="end">1.0</text>
<text x="127.6" y="549.4" text-anchor="middle">1553.0</text>
<text x="260.5" y="549.4" text-anchor="middle">1553.5</text>
<text x="393.3" y="549.4" text-anchor="middle">1554.0</text>
<text x="526.1" y="549.4" text-anchor="middle">1554.5</text>
<text x="659.0" y="549.4" text-anchor="middle">1555.0</text>
<text x="791.9" y="549.4" text-anchor="middle">1555.5</text>
<text x="924.7" y="549.4" text-anchor="middle">1556.0</text>
</g>
<g font-family="'Liberation Serif', serif" font-weight="bold" fill="#111">
<text x="330.6" y="596.3" font-size="33.65">Fundamental wavelength</text>
<text transform="translate(23.6,423) rotate(-90)" font-size="34.25">SHG Intensity (a.u.)</text>
</g>
</svg>
</body></html>
